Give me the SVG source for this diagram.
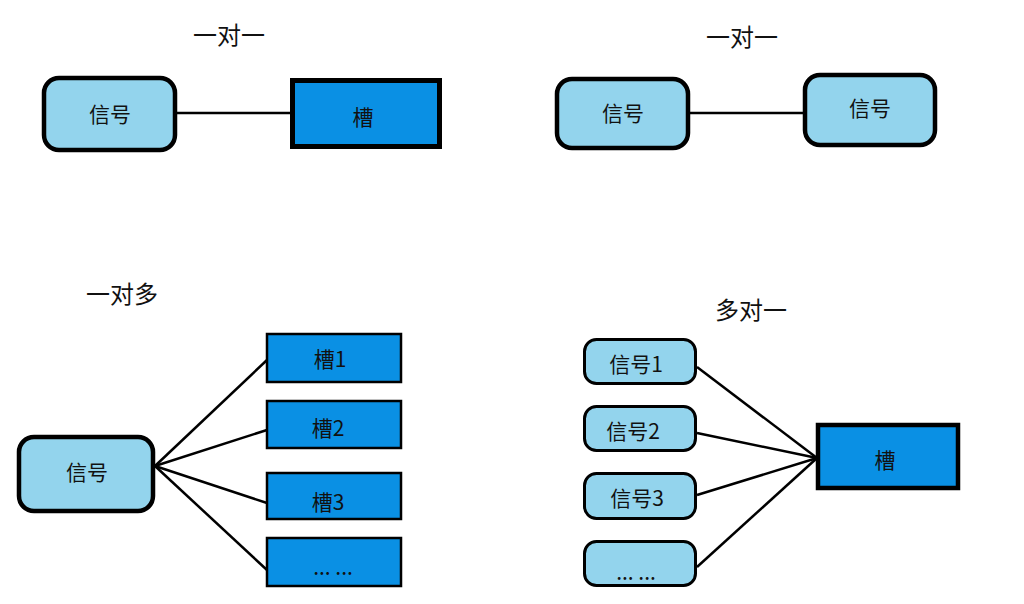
<svg xmlns="http://www.w3.org/2000/svg" width="1024" height="604" viewBox="0 0 1024 604">
<style>
text{font-family:"Noto Sans CJK SC","Liberation Sans",sans-serif;fill:#111;text-anchor:middle;dominant-baseline:central}
.t{font-size:24px}
.l{font-size:21px}
.sig{fill:#93d4ed;stroke:#000}
.slot{fill:#0a90e4;stroke:#000}
.c line{stroke:#000;stroke-width:2.5}
</style>
<rect width="1024" height="604" fill="#fff"/>
<text class="t" x="229" y="33">一对一</text>
<text class="t" x="742" y="35">一对一</text>
<text class="t" x="122" y="292">一对多</text>
<text class="t" x="751" y="308">多对一</text>
<g class="c">
<line x1="177" y1="113" x2="291" y2="113"/>
<line x1="690" y1="113" x2="804" y2="113"/>
<line x1="155" y1="466" x2="267" y2="360"/>
<line x1="155" y1="466" x2="267" y2="430"/>
<line x1="155" y1="466" x2="267" y2="503"/>
<line x1="155" y1="466" x2="267" y2="570"/>
<line x1="697" y1="367" x2="817" y2="458"/>
<line x1="697" y1="433" x2="817" y2="458"/>
<line x1="697" y1="495" x2="817" y2="458"/>
<line x1="697" y1="567" x2="817" y2="458"/>
</g>
<g id="n1"><rect class="sig" x="44" y="78" width="131" height="72" rx="15" stroke-width="4.5"/><text class="l" x="110" y="113">信号</text></g>
<g id="n2"><rect class="slot" x="292.5" y="80.5" width="147" height="66" stroke-width="5"/><text class="l" x="363" y="116">槽</text></g>
<g id="n3"><rect class="sig" x="557" y="79" width="131" height="69" rx="15" stroke-width="4.5"/><text class="l" x="623" y="112">信号</text></g>
<g id="n4"><rect class="sig" x="805" y="75" width="130" height="70" rx="15" stroke-width="4.5"/><text class="l" x="870" y="107">信号</text></g>
<g id="n5"><rect class="sig" x="19" y="437" width="134" height="74" rx="15" stroke-width="4.5"/><text class="l" x="87" y="471">信号</text></g>
<g id="n6"><rect class="slot" x="267" y="334" width="134" height="48" stroke-width="2.5"/><text class="l" x="330" y="358">槽1</text></g>
<g id="n7"><rect class="slot" x="267" y="401" width="134" height="47" stroke-width="2.5"/><text class="l" x="328" y="427">槽2</text></g>
<g id="n8"><rect class="slot" x="267" y="473" width="134" height="46" stroke-width="2.5"/><text class="l" x="328" y="501">槽3</text></g>
<g id="n9"><rect class="slot" x="267" y="538" width="134" height="48" stroke-width="2.5"/><text class="l" x="333" y="566">... ...</text></g>
<g id="n10"><rect class="sig" x="584.5" y="339.5" width="111" height="44" rx="12" stroke-width="3"/><text class="l" x="636" y="363">信号1</text></g>
<g id="n11"><rect class="sig" x="584.5" y="406.5" width="111" height="44" rx="12" stroke-width="3"/><text class="l" x="633" y="430">信号2</text></g>
<g id="n12"><rect class="sig" x="584.5" y="473.5" width="111" height="45" rx="12" stroke-width="3"/><text class="l" x="637" y="497">信号3</text></g>
<g id="n13"><rect class="sig" x="584.5" y="541.5" width="111" height="44" rx="12" stroke-width="3"/><text class="l" x="636" y="571">... ...</text></g>
<g id="n14"><rect class="slot" x="818" y="425" width="140" height="63" stroke-width="4.5"/><text class="l" x="885" y="459">槽</text></g>
</svg>
